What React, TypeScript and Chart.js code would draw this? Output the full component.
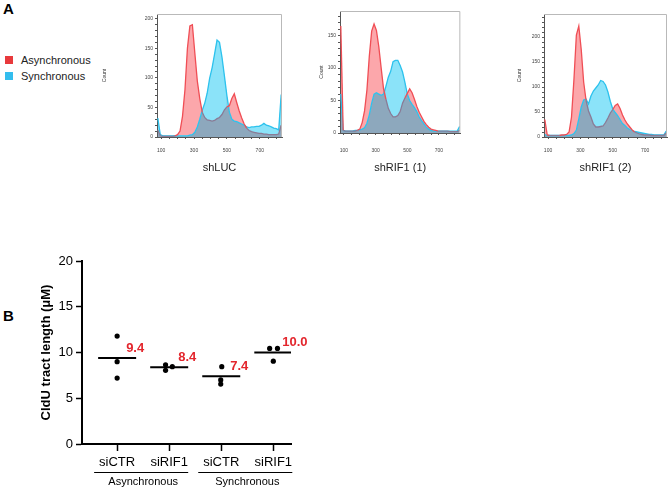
import React, { useEffect, useRef } from 'react';
import { Chart, registerables } from 'chart.js';

Chart.register(...registerables);

const FONT = '"Liberation Sans", Arial, Helvetica, sans-serif';

// ---------- Panel A data (flow cytometry histograms) ----------
const CHANNELS = [80, 95, 110, 125, 140, 155, 170, 185, 200, 215, 230, 245, 260, 275, 290, 305, 320, 335, 350, 365, 380, 395, 410, 425, 440, 455, 470, 485, 500, 515, 530, 545, 560, 575, 590, 605, 620, 635, 650, 665, 680, 695, 710, 725, 740, 755, 770, 785, 800, 815, 830];

const SHLUC_ASYNC = [12, 2, 1, 1, 1, 1, 1, 2, 4, 10, 35, 80, 150, 188, 190, 142, 95, 65, 42, 33, 29, 28, 27, 28, 31, 33, 38, 46, 51, 53, 65, 73, 58, 44, 32, 22, 15, 11, 9, 8, 7, 6, 6, 5, 5, 4, 4, 4, 4, 5, 20];
const SHLUC_SYNC = [32, 4, 2, 2, 2, 2, 2, 2, 2, 2, 2, 2, 2, 3, 4, 8, 17, 30, 45, 57, 74, 99, 117, 140, 164, 160, 135, 103, 70, 42, 30, 27, 26, 24, 22, 20, 17, 16, 17, 17, 18, 18, 20, 23, 20, 19, 17, 15, 14, 12, 72];

const SHRIF1_1_ASYNC = [165, 4, 3, 3, 3, 3, 3, 4, 6, 16, 34, 66, 118, 157, 168, 158, 133, 100, 68, 52, 38, 30, 25, 25, 27, 33, 46, 54, 61, 68, 62, 52, 41, 32, 25, 18, 13, 9, 6, 5, 4, 3, 3, 3, 3, 3, 2, 2, 2, 2, 4];
const SHRIF1_1_SYNC = [60, 4, 3, 3, 3, 3, 4, 4, 5, 6, 8, 15, 28, 46, 60, 62, 60, 58, 60, 72, 86, 95, 110, 112, 112, 104, 94, 78, 60, 50, 44, 39, 33, 25, 19, 14, 9, 6, 4, 3, 3, 3, 3, 3, 3, 3, 3, 3, 3, 3, 10];

const SHRIF1_2_ASYNC = [35, 4, 3, 3, 3, 3, 3, 4, 4, 5, 10, 40, 115, 204, 222, 175, 110, 73, 52, 40, 26, 20, 20, 21, 22, 29, 38, 48, 55, 63, 66, 57, 44, 34, 26, 20, 14, 10, 8, 6, 5, 4, 4, 4, 3, 3, 3, 3, 3, 3, 8];
const SHRIF1_2_SYNC = [5, 3, 3, 3, 3, 3, 3, 3, 3, 3, 3, 4, 7, 14, 36, 60, 74, 76, 66, 82, 92, 98, 104, 113, 111, 104, 90, 71, 56, 49, 43, 35, 27, 23, 18, 15, 13, 11, 10, 9, 8, 7, 6, 5, 5, 4, 4, 4, 4, 4, 12];

const HIST_TITLES = ['shLUC', 'shRIF1 (1)', 'shRIF1 (2)'];
const HIST_Y_MAX = [208, 188, 246];
const HIST_Y_LABEL_STEP = 50;
const HIST_Y_MINOR_STEP = 10;
const HIST_X_TICKS = [100, 150, 200, 250, 300, 350, 400, 450, 500, 550, 600, 650, 700, 750, 800];
const HIST_X_LABELS = [100, 300, 500, 700];
const LEGEND_LABELS = ['Asynchronous', 'Synchronous'];

// ---------- Panel B data (CldU tract length) ----------
const CATEGORIES = ['siCTR', 'siRIF1', 'siCTR', 'siRIF1'];
const GROUPS = ['Asynchronous', 'Synchronous'];
const CLDU_VALUES = [
  [11.8, 9.0, 7.2],
  [8.65, 8.05, 8.45],
  [8.45, 7.0, 6.55],
  [10.45, 10.45, 9.05],
];
const POINT_OFFSETS = [
  [0, 0, 0],
  [-0.07, -0.07, 0.06],
  [0.01, -0.01, -0.01],
  [-0.07, 0.08, 0],
];
const MEANS = [9.4, 8.4, 7.4, 10.0];
const B_Y_TICKS = [0, 5, 10, 15, 20];

// ---------- colours ----------
const RED_LINE = '#f04e55';
const RED_HIDDEN = '#8a7b96';
const BLUE_LINE = '#2cc3ee';
const PINK = '#fca7ab';
const CYAN = '#8be3f9';
const OVERLAP = '#8da8bd';

const framePlugin = {
  id: 'frameTopRight',
  afterDatasetsDraw(chart: any) {
    const { ctx, chartArea: a } = chart;
    ctx.save();
    ctx.strokeStyle = '#b9b9b9';
    ctx.lineWidth = 1;
    ctx.beginPath();
    ctx.moveTo(a.left, a.top + 0.5);
    ctx.lineTo(a.right - 0.5, a.top + 0.5);
    ctx.lineTo(a.right - 0.5, a.bottom);
    ctx.stroke();
    ctx.restore();
  },
};

type Frame = { left: number; top: number; right: number; bottom: number };

function Histogram(props: {
  frame: Frame;
  countX: number;
  asyncData: number[];
  syncData: number[];
  yMax: number;
  title: string;
}) {
  const { frame, countX, asyncData, syncData, yMax, title } = props;
  const ref = useRef<HTMLCanvasElement>(null);
  const H = 175;
  const yW = frame.left - (countX - 3);
  const canvasLeft = frame.left - yW;
  const W = frame.right - canvasLeft + 4;

  useEffect(() => {
    const chart = new Chart(ref.current as HTMLCanvasElement, {
      type: 'line',
      data: {
        datasets: [
          {
            label: LEGEND_LABELS[0],
            data: CHANNELS.map((x, i) => ({ x, y: asyncData[i] })),
            borderColor: RED_LINE,
            borderWidth: 1.3,
            pointRadius: 0,
            tension: 0,
            fill: { target: 1, above: PINK, below: CYAN },
            segment: {
              borderColor: (c: any) =>
                asyncData[c.p0DataIndex] <= syncData[c.p0DataIndex] &&
                asyncData[c.p1DataIndex] <= syncData[c.p1DataIndex]
                  ? RED_HIDDEN
                  : RED_LINE,
            },
          },
          {
            label: LEGEND_LABELS[1],
            data: CHANNELS.map((x, i) => ({ x, y: syncData[i] })),
            borderColor: BLUE_LINE,
            backgroundColor: OVERLAP,
            borderWidth: 1.3,
            pointRadius: 0,
            tension: 0,
            fill: 'origin',
          },
        ],
      } as any,
      options: {
        responsive: false,
        maintainAspectRatio: false,
        animation: false,
        layout: { padding: { top: frame.top, right: 4, left: 0, bottom: 0 } },
        plugins: {
          legend: { display: false },
          tooltip: { enabled: false },
          filler: { drawTime: 'beforeDatasetsDraw' },
        } as any,
        scales: {
          x: {
            type: 'linear',
            min: 75,
            max: 835,
            afterBuildTicks: (s: any) => {
              s.ticks = HIST_X_TICKS.map((v) => ({ value: v }));
            },
            afterFit: (s: any) => {
              s.height = H - frame.bottom;
            },
            ticks: {
              autoSkip: false,
              maxRotation: 0,
              padding: 151 - 3 - frame.bottom - 2,
              color: '#444',
              font: { size: 5, family: FONT },
              callback: (v: any) => (HIST_X_LABELS.includes(Number(v)) ? String(v) : ''),
            },
            grid: { drawOnChartArea: false, drawTicks: true, tickLength: 2, color: '#555' },
            border: { display: true, color: '#555', width: 1 },
            title: { display: true, text: title, color: '#222', padding: 0, font: { size: 11, family: FONT } },
          },
          y: {
            type: 'linear',
            min: 0,
            max: yMax,
            afterBuildTicks: (s: any) => {
              const t: { value: number }[] = [];
              for (let v = 0; v <= yMax; v += HIST_Y_MINOR_STEP) t.push({ value: v });
              s.ticks = t;
            },
            afterFit: (s: any) => {
              s.width = yW;
            },
            ticks: {
              autoSkip: false,
              padding: 2,
              color: '#444',
              font: { size: 5, family: FONT },
              callback: (v: any) => (Number(v) % HIST_Y_LABEL_STEP === 0 ? String(v) : ''),
            },
            grid: { drawOnChartArea: false, drawTicks: true, tickLength: 2, color: '#555' },
            border: { display: true, color: '#555', width: 1 },
            title: { display: true, text: 'Count', color: '#333', padding: 0, font: { size: 5, family: FONT } },
          },
        },
      } as any,
      plugins: [framePlugin],
    });
    return () => chart.destroy();
  }, []);

  return (
    <canvas
      ref={ref}
      width={W}
      height={H}
      style={{ position: 'absolute', left: canvasLeft, top: 0, width: W, height: H }}
    />
  );
}

const panelBPlugin = {
  id: 'panelBExtras',
  afterDraw(chart: any) {
    const { ctx, chartArea } = chart;
    const xs = chart.scales.x;
    const ys = chart.scales.y;
    ctx.save();
    // mean value labels
    ctx.fillStyle = '#e3262d';
    ctx.font = `bold 13px ${FONT}`;
    ctx.textAlign = 'left';
    ctx.textBaseline = 'middle';
    MEANS.forEach((m, i) => {
      ctx.fillText(m.toFixed(1), xs.getPixelForValue(i + 1) + 9, ys.getPixelForValue(m) - 10);
    });
    // group brackets
    ctx.strokeStyle = '#000';
    ctx.lineWidth = 1;
    ctx.fillStyle = '#000';
    ctx.font = `11px ${FONT}`;
    ctx.textAlign = 'center';
    GROUPS.forEach((g, gi) => {
      const x0 = xs.getPixelForValue(gi * 2 + 1) - 23;
      const x1 = xs.getPixelForValue(gi * 2 + 2) + 19;
      const yl = chartArea.bottom + 28;
      ctx.beginPath();
      ctx.moveTo(x0, yl + 0.5);
      ctx.lineTo(x1, yl + 0.5);
      ctx.stroke();
      ctx.fillText(g, (x0 + x1) / 2 + 2, chartArea.bottom + 38);
    });
    ctx.restore();
  },
};

function PanelB() {
  const ref = useRef<HTMLCanvasElement>(null);
  const W = 320;
  const H = 247;
  useEffect(() => {
    const points: { x: number; y: number }[] = [];
    CLDU_VALUES.forEach((vals, ci) =>
      vals.forEach((v, j) => points.push({ x: ci + 1 + POINT_OFFSETS[ci][j], y: v }))
    );
    const chart = new Chart(ref.current as HTMLCanvasElement, {
      type: 'scatter',
      data: {
        datasets: [
          {
            label: 'points',
            data: points,
            pointRadius: 2.6,
            backgroundColor: '#000',
            borderWidth: 0,
          },
          {
            label: 'mean',
            data: MEANS.map((m, i) => ({ x: i + 1, y: m })),
            pointStyle: 'line',
            pointRadius: 19,
            borderColor: '#000',
            borderWidth: 2,
          },
        ],
      } as any,
      options: {
        responsive: false,
        maintainAspectRatio: false,
        animation: false,
        layout: { padding: { top: 16, right: 29, left: 0, bottom: 0 } },
        plugins: { legend: { display: false }, tooltip: { enabled: false } },
        scales: {
          x: {
            type: 'linear',
            min: 0.325,
            max: 4.34,
            afterBuildTicks: (s: any) => {
              s.ticks = CATEGORIES.map((_, i) => ({ value: i + 1 }));
            },
            afterFit: (s: any) => {
              s.height = 43;
            },
            ticks: {
              autoSkip: false,
              maxRotation: 0,
              padding: 4,
              color: '#000',
              font: { size: 13, family: FONT },
              callback: (v: any) => CATEGORIES[Math.round(Number(v)) - 1] ?? '',
            },
            grid: { drawOnChartArea: false, drawTicks: true, tickLength: 7, color: '#000', tickWidth: 1.5 },
            border: { display: true, color: '#000', width: 2 },
          },
          y: {
            type: 'linear',
            min: 0,
            max: 20,
            afterBuildTicks: (s: any) => {
              s.ticks = B_Y_TICKS.map((v) => ({ value: v }));
            },
            afterFit: (s: any) => {
              s.width = 82;
            },
            ticks: {
              padding: 3,
              color: '#000',
              font: { size: 13, family: FONT },
            },
            grid: { drawOnChartArea: false, drawTicks: true, tickLength: 6, color: '#000', tickWidth: 1.5 },
            border: { display: true, color: '#000', width: 2 },
            title: {
              display: true,
              text: 'CldU tract length (μM)',
              color: '#000',
              padding: { top: 39, bottom: 0 },
              font: { size: 13, weight: 'bold', family: FONT },
            },
          },
        },
      } as any,
      plugins: [panelBPlugin],
    });
    return () => chart.destroy();
  }, []);
  return (
    <canvas
      ref={ref}
      width={W}
      height={H}
      style={{ position: 'absolute', left: 0, top: 240, width: W, height: H }}
    />
  );
}

export default function App() {
  const text = { position: 'absolute' as const, fontFamily: FONT, color: '#000', whiteSpace: 'nowrap' as const };
  return (
    <div style={{ position: 'absolute', left: 0, top: 0, width: 668, height: 487, background: '#fff', overflow: 'hidden' }}>
      <div style={{ ...text, left: 3, top: 0, fontSize: 15, fontWeight: 'bold', lineHeight: '17px' }}>A</div>
      <div style={{ ...text, left: 3, top: 307, fontSize: 15, fontWeight: 'bold', lineHeight: '17px' }}>B</div>

      <div style={{ position: 'absolute', left: 5, top: 56, width: 8, height: 8, background: '#e8393c' }} />
      <div style={{ ...text, left: 21, top: 54, fontSize: 11, lineHeight: '12px', color: '#222' }}>{LEGEND_LABELS[0]}</div>
      <div style={{ position: 'absolute', left: 5, top: 72, width: 8, height: 8, background: '#33bdee' }} />
      <div style={{ ...text, left: 21, top: 70, fontSize: 11, lineHeight: '12px', color: '#222' }}>{LEGEND_LABELS[1]}</div>

      <Histogram
        frame={{ left: 157, top: 14, right: 282, bottom: 137 }}
        countX={105}
        asyncData={SHLUC_ASYNC}
        syncData={SHLUC_SYNC}
        yMax={HIST_Y_MAX[0]}
        title={HIST_TITLES[0]}
      />
      <Histogram
        frame={{ left: 340, top: 11, right: 464, bottom: 133 }}
        countX={322}
        asyncData={SHRIF1_1_ASYNC}
        syncData={SHRIF1_1_SYNC}
        yMax={HIST_Y_MAX[1]}
        title={HIST_TITLES[1]}
      />
      <Histogram
        frame={{ left: 544, top: 14, right: 667, bottom: 137 }}
        countX={520}
        asyncData={SHRIF1_2_ASYNC}
        syncData={SHRIF1_2_SYNC}
        yMax={HIST_Y_MAX[2]}
        title={HIST_TITLES[2]}
      />

      <PanelB />
    </div>
  );
}
